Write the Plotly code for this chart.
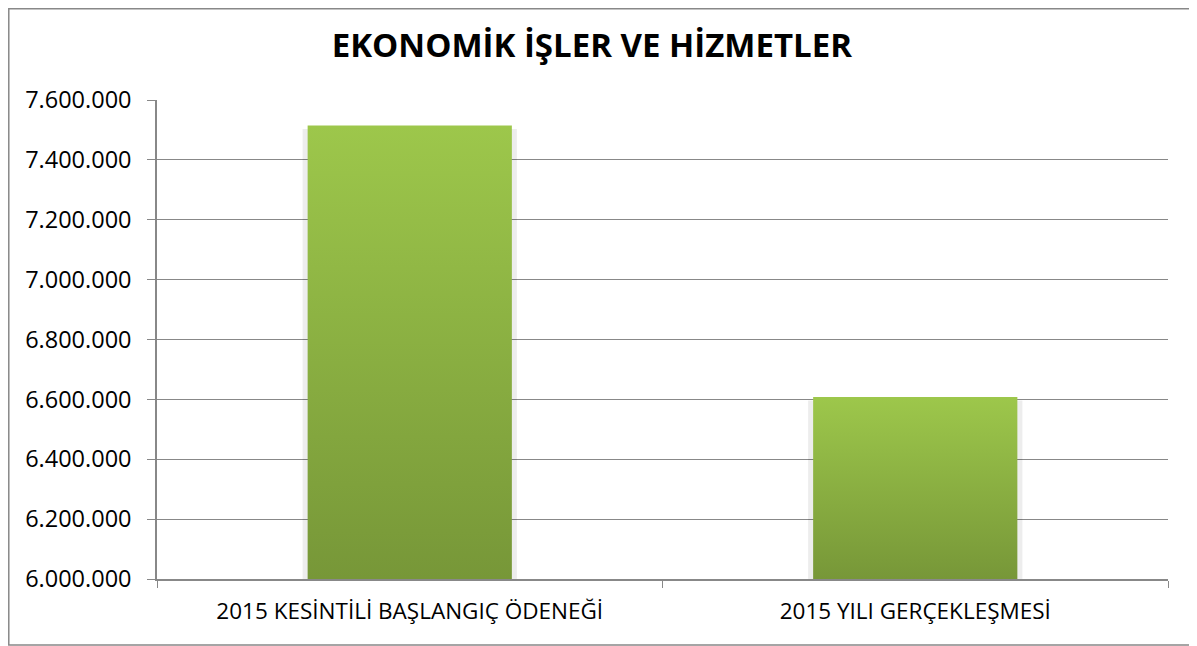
import plotly.graph_objects as go

categories = ["2015 KESİNTİLİ BAŞLANGIÇ ÖDENEĞİ", "2015 YILI GERÇEKLEŞMESİ"]
values = [7515000, 6608000]
y_ticks = [6000000, 6200000, 6400000, 6600000, 6800000, 7000000, 7200000, 7400000, 7600000]
title_text = "EKONOMİK İŞLER VE HİZMETLER"

Y_MIN, Y_MAX = 6000000, 7600000
BAR_W = 0.404
FONT = "Open Sans"

fig = go.Figure()

# invisible bars to establish the category axis
fig.add_trace(go.Bar(x=categories, y=values, marker=dict(color="rgba(0,0,0,0)", line=dict(width=0)),
                     opacity=0, hoverinfo="skip", showlegend=False))

for i, v in enumerate(values):
    # soft shadow
    sw = BAR_W / 2 + 0.01
    fig.add_trace(go.Scatter(
        x=[i - sw, i + sw, i + sw, i - sw, i - sw],
        y=[Y_MIN, Y_MIN, v - 12000, v - 12000, Y_MIN],
        xaxis="x2", mode="lines", line=dict(width=0), fill="toself",
        fillcolor="rgba(0,0,0,0.07)", hoverinfo="skip", showlegend=False))
    hw = BAR_W / 2
    fig.add_trace(go.Scatter(
        x=[i - hw, i + hw, i + hw, i - hw, i - hw],
        y=[Y_MIN, Y_MIN, v, v, Y_MIN],
        xaxis="x2", mode="lines", line=dict(width=0), fill="toself",
        fillgradient=dict(type="vertical",
                          colorscale=[[0, "#779738"], [1, "#9dc74b"]]),
        hoverinfo="skip", showlegend=False))

fig.update_layout(
    width=1189, height=638,
    margin=dict(l=149, r=29, t=92, b=67),
    paper_bgcolor="white", plot_bgcolor="white",
    separators=",.",
    font=dict(family=FONT, color="black", size=18),
    title=dict(text="<b>" + title_text + "</b>", x=0.491, xanchor="center",
               y=0.941, yanchor="middle", font=dict(family=FONT, size=33, color="black")),
    xaxis=dict(type="category", tickson="boundaries", ticks="outside", ticklen=7,
               tickcolor="#888888", showline=True, linecolor="#888888", linewidth=1.5,
               showgrid=False, tickfont=dict(size=22.5), range=[-0.5, 1.5],
               ticklabelstandoff=11),
    xaxis2=dict(overlaying="x", range=[-0.5, 1.5], visible=False),
    yaxis=dict(range=[Y_MIN, Y_MAX], tickvals=y_ticks, tickformat=",d",
               ticks="outside", ticklen=8, tickcolor="#888888",
               showline=True, linecolor="#888888", linewidth=1.5,
               showgrid=True, gridcolor="#888888", gridwidth=1,
               zeroline=False, tickfont=dict(size=23.5), ticklabelstandoff=11),
    shapes=[dict(type="rect", xref="paper", yref="paper",
                 x0=-0.1466, x1=1.0277, y0=-0.1378, y1=1.1905,
                 line=dict(color="#888888", width=1.5), fillcolor="rgba(0,0,0,0)",
                 layer="below")],
)

fig.write_html("out.html")
